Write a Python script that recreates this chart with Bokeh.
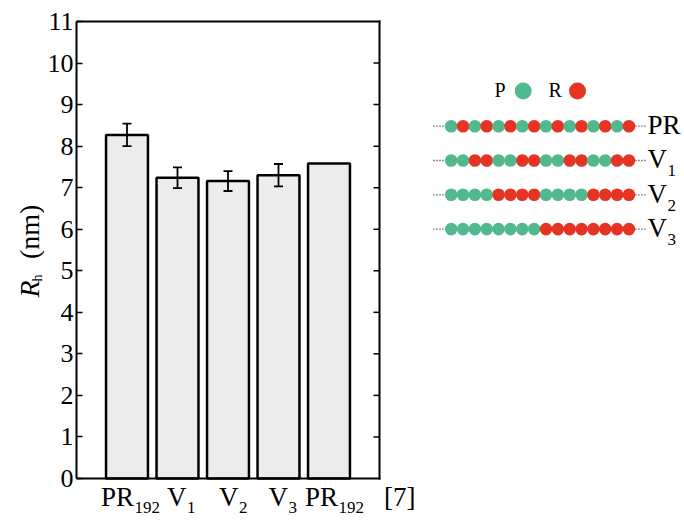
import math

from bokeh.embed import file_html
from bokeh.resources import INLINE
from bokeh.plotting import figure
from bokeh.layouts import row
from bokeh.core.properties import value
from bokeh.models import (ColumnDataSource, Range1d, LinearAxis, FixedTicker,
                          Whisker, TeeHead)

# ---- data -----------------------------------------------------------------
categories = ["PR192", "V1", "V2", "V3", "PR192 [7]"]
label_main = ["PR", "V", "V", "V", "PR"]
label_sub = ["192", "1", "2", "3", "192"]
rh_values = [8.27, 7.24, 7.16, 7.30, 7.58]
rh_errors = [0.27, 0.25, 0.24, 0.27, None]
y_ticks = list(range(0, 12))
reference_note = "[7]"

seq_names = ["PR", "V", "V", "V"]
seq_subs = ["", "1", "2", "3"]
sequences = [
    "PRPRPRPRPRPRPRPR",
    "PPRRPPRRPPRRPPRR",
    "PPPPRRRRPPPPRRRR",
    "PPPPPPPPRRRRRRRR",
]
monomer_colors = {"P": "#52b98f", "R": "#e53424"}

# ---- styling ----------------------------------------------------------------
SERIF = "Liberation Serif"
TICK_SIZE = 26
LAB = 27      # category / sequence labels
SUB = 17      # subscripts
DESC = 0.22   # descent (em) used to place 'bottom'-anchored text on its baseline
ASC = 0.85    # em-box top above baseline

EM = {"P": .556, "R": .667, "V": .722}


def width(s, size):
    return sum(EM.get(c, .5) for c in s) * size


W, H = 684, 520
STRIP = 44                              # left strip holding the rotated title
FRAME_L, FRAME_T, FRAME_B = 76, 21, 478  # page pixels of the bar-chart box
BOX_R = 379
X_BOX, Y_MAX = 6, 11
px_x = (BOX_R - FRAME_L) / X_BOX
px_y = (FRAME_B - FRAME_T) / Y_MAX

# ---- main figure: bars, category labels, sequence diagram ---------------------
p = figure(width=W - STRIP, height=H, title=None,
           x_range=Range1d(0, (W - FRAME_L) / px_x),
           y_range=Range1d(-(H - FRAME_B) / px_y, Y_MAX + FRAME_T / px_y),
           output_backend="svg", toolbar_location=None,
           x_axis_location=None, y_axis_location=None,
           min_border_left=FRAME_L - STRIP, min_border_right=0,
           min_border_top=0, min_border_bottom=0)
p.grid.visible = False
p.outline_line_color = None
p.background_fill_color = "white"
p.border_fill_color = "white"
# page-pixel coordinates for the schematic and the labels under the bars
p.extra_x_ranges = {"page": Range1d(FRAME_L, W)}
p.extra_y_ranges = {"page": Range1d(H, 0)}

yax = LinearAxis(ticker=FixedTicker(ticks=y_ticks), bounds=(0, Y_MAX),
                 major_tick_in=6, major_tick_out=0, minor_tick_line_color=None,
                 axis_line_width=2, major_tick_line_width=1.5,
                 major_label_standoff=3,
                 major_label_text_font=f"'{SERIF}', serif",
                 major_label_text_font_size=f"{TICK_SIZE}px",
                 major_label_text_color="black")
p.add_layout(yax, "left")

xs = [i + 1 for i in range(len(categories))]
bars = ColumnDataSource(dict(x=xs, top=rh_values))
p.vbar(x="x", top="top", bottom=0, width=0.83, source=bars,
       fill_color="#ececec", line_color="black", line_width=2.5)

# remaining sides of the box with inward ticks on the right
p.segment(x0=[0, 0, X_BOX], y0=[Y_MAX, 0, 0], x1=[X_BOX, X_BOX, X_BOX], y1=[Y_MAX, 0, Y_MAX],
          line_color="black", line_width=2, line_cap="square")
inner = y_ticks[1:-1]
p.segment(x0=[X_BOX] * len(inner), y0=inner, x1=[X_BOX - 6 / px_x] * len(inner), y1=inner,
          line_color="black", line_width=1.5)

ex = [x for x, e in zip(xs, rh_errors) if e is not None]
ev = [v for v, e in zip(rh_values, rh_errors) if e is not None]
ee = [e for e in rh_errors if e is not None]
err = ColumnDataSource(dict(x=ex, upper=[v + e for v, e in zip(ev, ee)],
                            lower=[v - e for v, e in zip(ev, ee)]))
p.add_layout(Whisker(base="x", upper="upper", lower="lower", source=err,
                     line_width=1.8, line_color="black", level="annotation",
                     upper_head=TeeHead(size=9, line_width=1.8, line_color="black"),
                     lower_head=TeeHead(size=9, line_width=1.8, line_color="black")))

# category labels (main text + subscript), placed on the bar positions
text_kw = dict(text_font=value(SERIF), text_color="black", text_align="left",
               text_baseline="bottom", y_range_name="page")
starts = [-26, -10.5, -9, -10, -24]
BASE = 506
p.text(x=xs, y=[BASE + DESC * LAB] * len(xs), x_offset=starts, text=label_main,
       text_font_size=f"{LAB}px", **text_kw)
p.text(x=xs, y=[BASE + 2.5 + DESC * SUB] * len(xs),
       x_offset=[s + width(m, LAB) + 0.5 for s, m in zip(starts, label_main)],
       text=label_sub, text_font_size=f"{SUB}px", **text_kw)
p.text(x=[xs[-1]], y=[BASE + DESC * LAB], x_offset=[55], text=[reference_note],
       text_font_size=f"{LAB}px", **text_kw)

# ---- sequence schematic -------------------------------------------------------
pg = dict(x_range_name="page", y_range_name="page")
row_y0, row_dy = 125.7, 34.3
bead_x0, bead_dx = 450.7, 11.85

bx, by, bc = [], [], []
for i, seq in enumerate(sequences):
    for j, m in enumerate(seq):
        bx.append(bead_x0 + j * bead_dx)
        by.append(row_y0 + i * row_dy)
        bc.append(monomer_colors[m])
p.scatter(x=bx, y=by, size=12.6, fill_color=bc, line_color=None, **pg)

n = len(sequences[0])
ry = [row_y0 + i * row_dy for i in range(len(sequences))]
left_end = bead_x0 - 6.5
right_start = bead_x0 + (n - 1) * bead_dx + 6.5
p.segment(x0=[433] * len(ry), y0=ry, x1=[left_end] * len(ry), y1=ry,
          line_color="#222222", line_width=1.3, line_dash="1 2", **pg)
p.segment(x0=[right_start] * len(ry), y0=ry, x1=[646] * len(ry), y1=ry,
          line_color="#222222", line_width=1.3, line_dash="1 2", **pg)

seq_kw = dict(text_font=value(SERIF), text_color="black", text_align="left",
              text_baseline="bottom", **pg)
p.text(x=[647] * len(ry), y=[y + 8 + DESC * LAB for y in ry], text=seq_names,
       text_font_size=f"{LAB}px", **seq_kw)
p.text(x=[647 + width("V", LAB) + 0.5] * len(ry), y=[y + 12 + DESC * SUB for y in ry],
       text=seq_subs, text_font_size=f"{SUB}px", **seq_kw)

# key for the two monomer types
p.text(x=[494, 548], y=[96 + DESC * 20] * 2, text=["P", "R"],
       text_font_size="20px", **seq_kw)
p.scatter(x=[522.7, 577], y=[90.5, 90.5], size=17,
          fill_color=[monomer_colors["P"], monomer_colors["R"]], line_color=None, **pg)

# ---- left strip: rotated y-axis title  R_h (nm) --------------------------------
t = figure(width=STRIP, height=H, title=None, x_range=Range1d(0, STRIP), y_range=Range1d(0, H),
           output_backend="svg", toolbar_location=None,
           x_axis_location=None, y_axis_location=None, min_border=0)
t.grid.visible = False
t.outline_line_color = None
t.background_fill_color = "white"
t.border_fill_color = "white"

TITLE = 28
HSUB = 14
T_BASE = 37
title_kw = dict(text_font=value(SERIF), text_color="black", text_align="left",
                text_baseline="top", angle=math.pi / 2)
t.text(x=[T_BASE - ASC * TITLE], y=[H - 297], text=["R"], text_font_style="italic",
       text_font_size=f"{TITLE}px", **title_kw)
t.text(x=[T_BASE + 4.5 - ASC * HSUB], y=[H - 281], text=["h"], text_font_size=f"{HSUB}px",
       **title_kw)
t.text(x=[T_BASE - ASC * TITLE], y=[H - 258.5], text=["(nm)"],
       text_font_size=f"{TITLE}px", **title_kw)

layout = row(t, p)
open("out.html", "w").write(file_html(layout, INLINE))
